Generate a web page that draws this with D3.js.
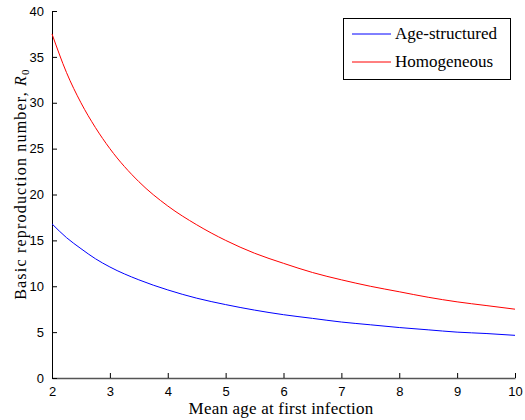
<!DOCTYPE html>
<html>
<head>
<meta charset="utf-8">
<script src="https://cdn.jsdelivr.net/npm/d3@7"></script>
<style>
  body { margin: 0; background: #fff; }
</style>
</head>
<body>
<div id="vis"></div>
<script>
// mean age at first infection (x) and R0
const ages = [2, 2.25, 2.5, 2.75, 3, 3.5, 4, 4.5, 5, 5.5, 6, 6.5, 7, 7.5, 8, 8.5, 9, 9.5, 10];
const ageStructured = [16.8, 15.3, 14.1, 13.0, 12.1, 10.7, 9.6, 8.7, 8.0, 7.4, 6.9, 6.5, 6.1, 5.8, 5.5, 5.25, 5.0, 4.85, 4.65];
const homogeneous = [37.5, 33.3, 30.0, 27.3, 25.0, 21.4, 18.75, 16.7, 15.0, 13.6, 12.5, 11.5, 10.7, 10.0, 9.4, 8.8, 8.3, 7.9, 7.5];
const xTicks = [2, 3, 4, 5, 6, 7, 8, 9, 10];
const yTicks = [0, 5, 10, 15, 20, 25, 30, 35, 40];
const seriesNames = ['Age-structured', 'Homogeneous'];
const seriesColors = ['#0000ff', '#ff0000'];

const width = 525;
const height = 420;
const margin = { top: 11, right: 10, bottom: 42, left: 52 };

const x = d3.scaleLinear()
    .domain([2, 10])
    .range([margin.left, width - margin.right]);

const y = d3.scaleLinear()
    .domain([0, 40])
    .range([height - margin.bottom, margin.top]);

const svg = d3.select('#vis')
    .append('svg')
    .attr('width', width)
    .attr('height', height);

const tickFont = 'Liberation Sans, Arial, sans-serif';
const serifFont = 'Liberation Serif, Times New Roman, serif';

// bottom axis, ticks point inward
const xAxis = svg.append('g')
    .attr('transform', `translate(0, ${height - margin.bottom})`)
    .call(d3.axisBottom(x).tickValues(xTicks).tickSizeInner(-5).tickSizeOuter(0).tickPadding(9).tickFormat(d3.format('d')));

const yAxis = svg.append('g')
    .attr('transform', `translate(${margin.left}, 0)`)
    .call(d3.axisLeft(y).tickValues(yTicks).tickSizeInner(-5).tickSizeOuter(0).tickPadding(8).tickFormat(d3.format('d')));

svg.selectAll('.tick text')
    .attr('font-family', tickFont)
    .attr('font-size', '13px')
    .attr('fill', '#000');

svg.selectAll('.domain, .tick line')
    .attr('stroke', '#000')
    .attr('stroke-width', 1);

xAxis.select('.domain').attr('stroke', '#555').attr('stroke-width', 1.6);

svg.append('text')
    .attr('x', 281)
    .attr('y', 414)
    .attr('text-anchor', 'middle')
    .attr('font-family', serifFont)
    .attr('font-size', '17px')
    .attr('letter-spacing', '0.2px')
    .text('Mean age at first infection');

const ylab = svg.append('text')
    .attr('transform', `translate(26, 184) rotate(-90)`)
    .attr('text-anchor', 'middle')
    .attr('font-family', serifFont)
    .attr('font-size', '16px')
    .attr('letter-spacing', '1.2px');
ylab.append('tspan').text('Basic reproduction number, ');
ylab.append('tspan').attr('font-style', 'italic').text('R');
ylab.append('tspan').attr('font-size', '11px').attr('dy', 3).text('0');

const line = d3.line()
    .x((d, i) => x(ages[i]))
    .y(d => y(d))
    .curve(d3.curveMonotoneX);

svg.selectAll('path.series')
    .data([ageStructured, homogeneous])
    .join('path')
    .attr('class', 'series')
    .attr('fill', 'none')
    .attr('stroke', (d, i) => seriesColors[i])
    .attr('stroke-width', 1)
    .attr('d', line);

// legend
const legend = svg.append('g')
    .attr('transform', 'translate(343, 18)');

legend.append('rect')
    .attr('x', 0.5)
    .attr('y', 0.5)
    .attr('width', 167)
    .attr('height', 61)
    .attr('fill', '#fff')
    .attr('stroke', '#000')
    .attr('stroke-width', 1);

const entries = legend.selectAll('g.entry')
    .data(seriesNames)
    .join('g')
    .attr('class', 'entry')
    .attr('transform', (d, i) => `translate(0, ${16 + i * 28})`);

entries.append('line')
    .attr('x1', 9)
    .attr('x2', 48)
    .attr('stroke', (d, i) => seriesColors[i])
    .attr('stroke-width', 1);

entries.append('text')
    .attr('x', 52)
    .attr('y', 5)
    .attr('font-family', serifFont)
    .attr('font-size', '17px')
    .text(d => d);
</script>
</body>
</html>
